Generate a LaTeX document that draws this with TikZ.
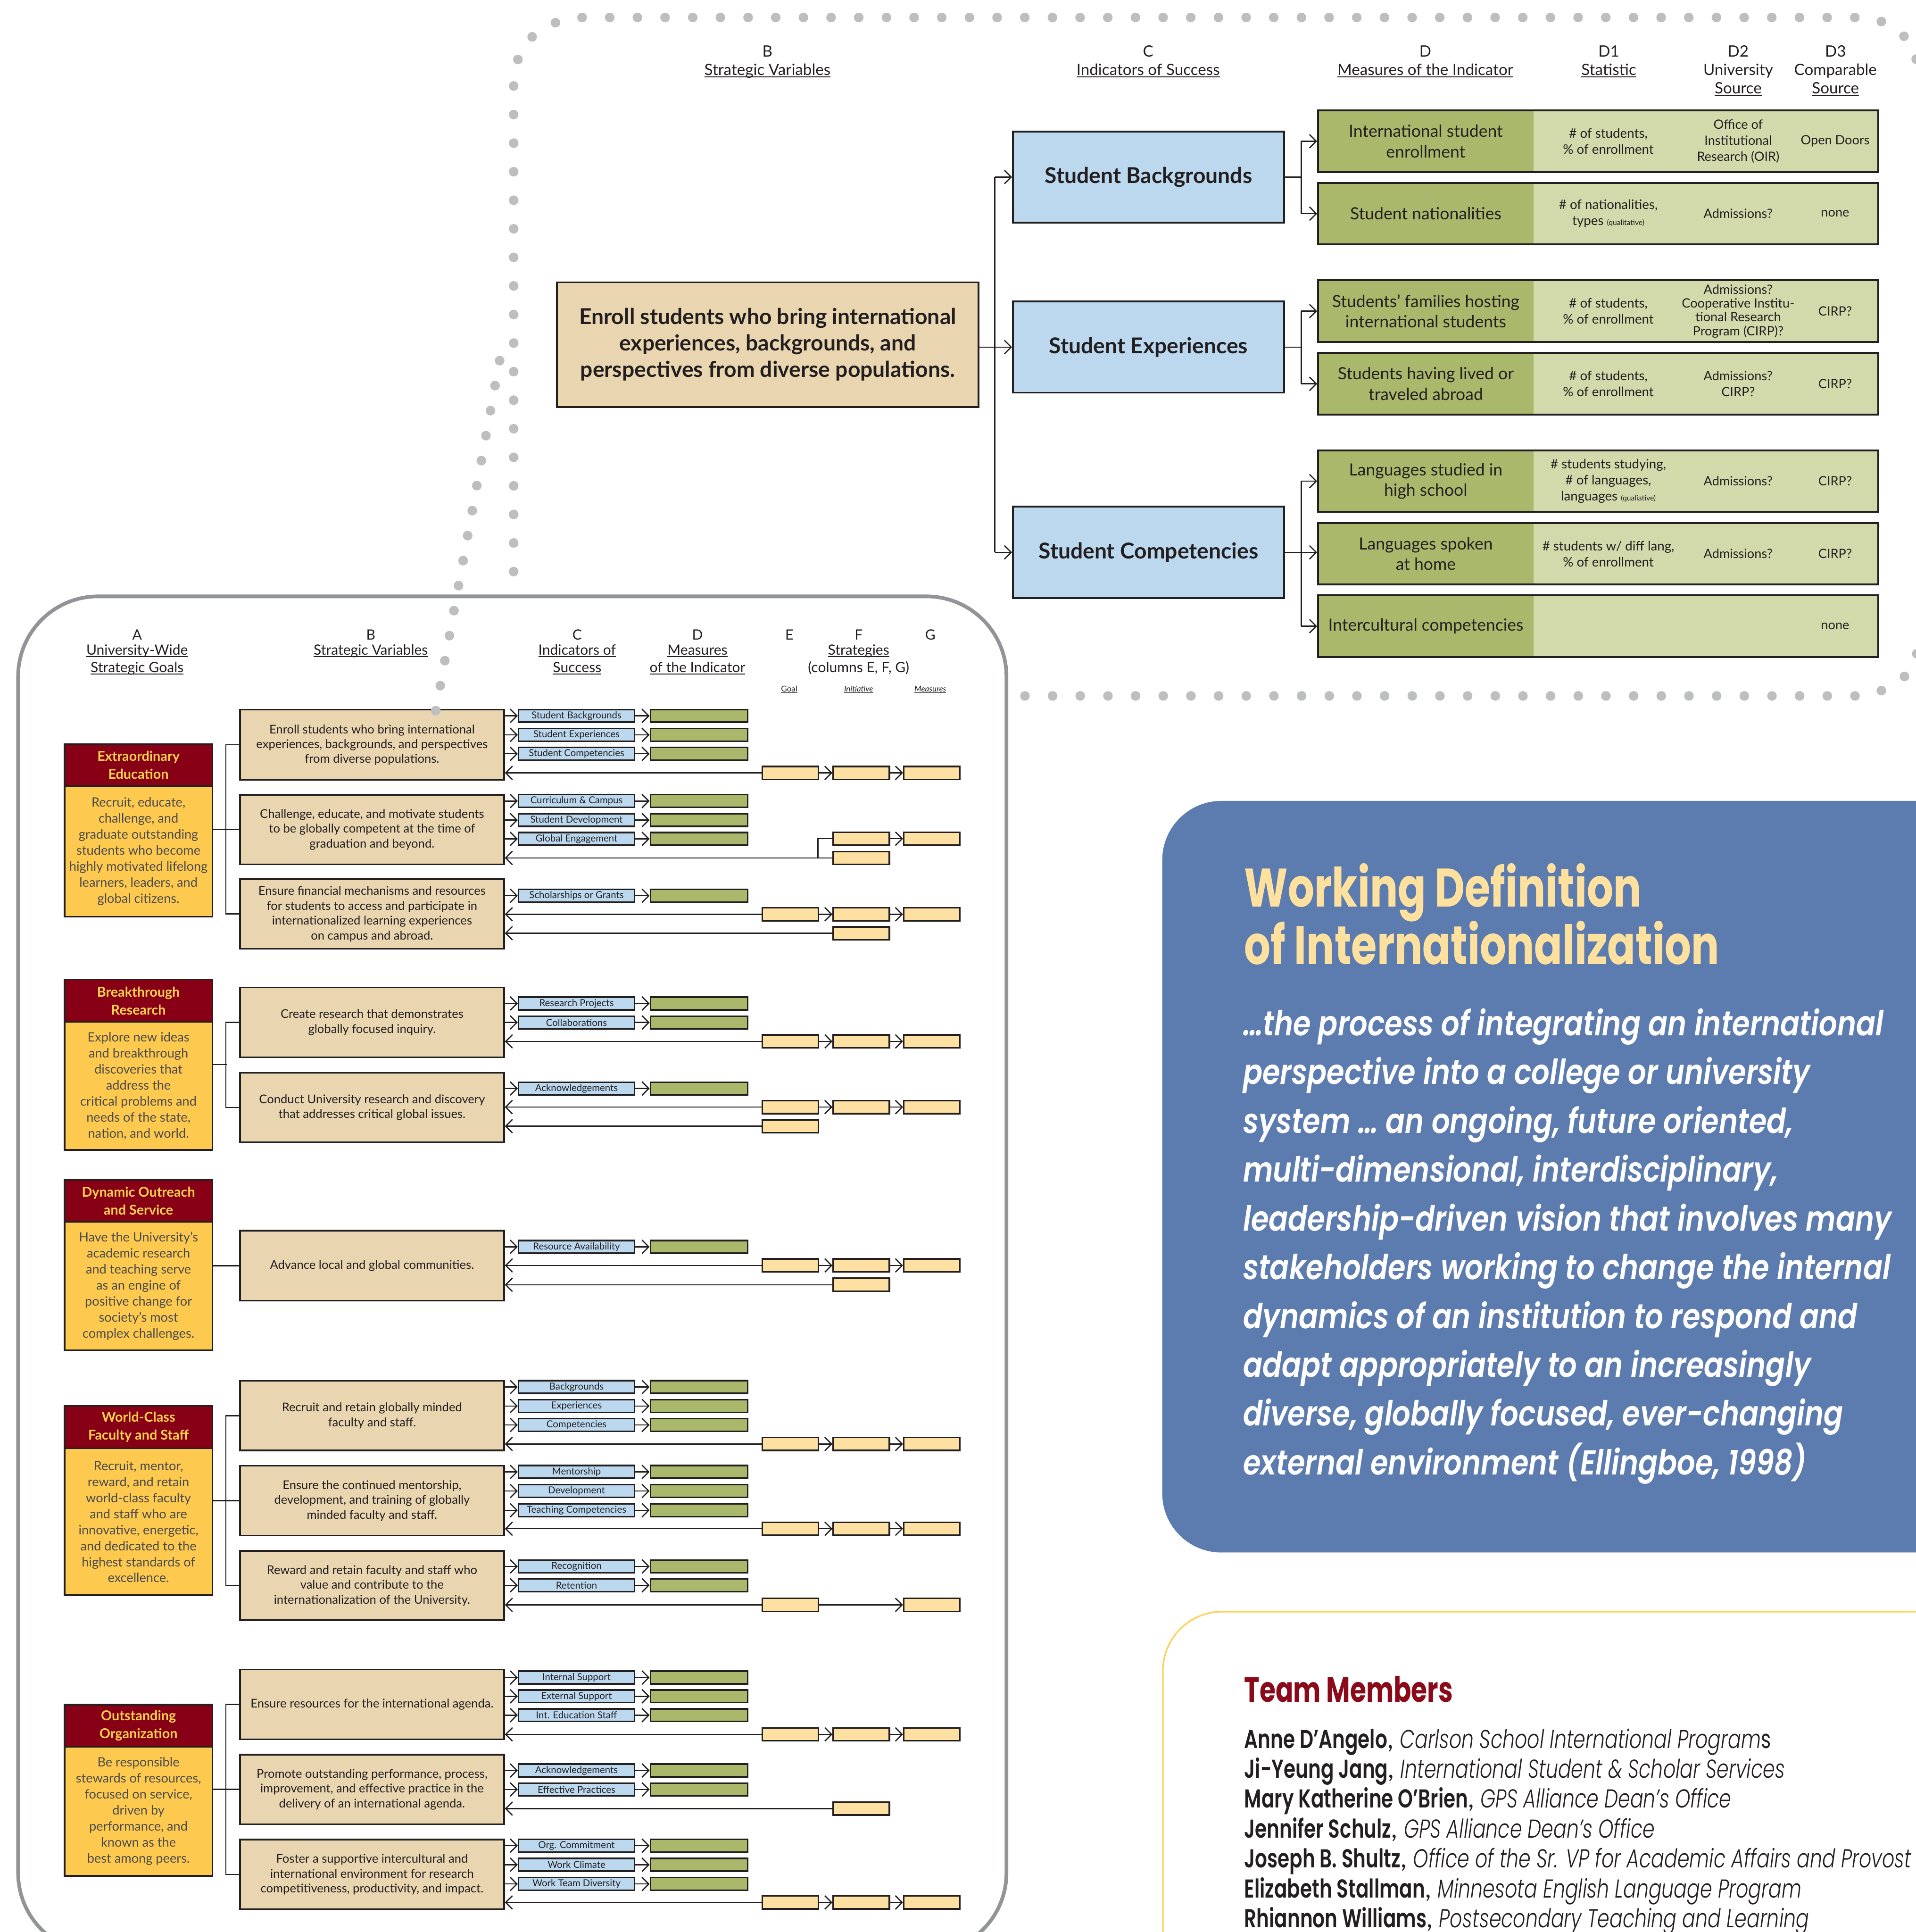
\documentclass[tikz,border=0pt]{standalone}
\usepackage{fontspec}
\setmainfont{Lato}
\newfontfamily\pop{Poppins}[FakeStretch=0.74]
\newfontfamily\popt{Poppins}[FakeStretch=0.765]
\newfontfamily\popq{Poppins SemiBold Italic}[FakeStretch=0.83]
\newfontfamily\popm{Poppins SemiBold}[FakeStretch=0.74]
\newfontfamily\popl{Poppins Light Italic}[FakeStretch=0.75]
\usetikzlibrary{arrows.meta}
\definecolor{tanc}{HTML}{E9D6B0}
\definecolor{bluec}{HTML}{BBD8EF}
\definecolor{dgreen}{HTML}{AAB86B}
\definecolor{lgreen}{HTML}{D2D9AB}
\definecolor{yel}{HTML}{FEE1A2}
\definecolor{goalred}{HTML}{870016}
\definecolor{goaltxt}{HTML}{F8D34E}
\definecolor{goalbody}{HTML}{FDCA4F}
\definecolor{ink}{HTML}{231F20}
\definecolor{bodytxt}{HTML}{4B4A4C}
\definecolor{dotc}{HTML}{BCBEC0}
\definecolor{panelgray}{HTML}{929497}
\definecolor{defblue}{HTML}{5C7BAE}
\definecolor{deftitle}{HTML}{FEE19E}
\definecolor{teamline}{HTML}{FDD35C}
\definecolor{teamred}{HTML}{8A0A1A}
\newsavebox\ulbox
\newcommand\ulx[1]{\sbox\ulbox{#1}\rlap{\rule[-0.14em]{\wd\ulbox}{0.06em}}\usebox\ulbox}
\newcommand\hdl[4]{\node[txt, anchor=base] (#1) at (#2,#3) {#4};}
% lower panel helpers
\newcommand\svnode[4]{\node[svb, minimum height={(#3)-(#2)}] (#1) at (302,{((#2)+(#3))/2}) {#4};}
\newcommand\indnode[4]{%
 \node[indb] (#1) at (468,#2) {#3};
 \node[grb] (#1g) at (567.5,#2) {};
 \draw[arr] (#4.east |- #1.west) -- (#1.west);
 \draw[arr] (#1.east) -- (#1g.west);}
\newcommand\backefg[3]{%
 \node[ylb] (#1e) at (641.5,#2) {};
 \node[ylb] (#1f) at (699.2,#2) {};
 \node[ylb] (#1g) at (756.5,#2) {};
 \draw[arr] (#1e.east) -- (#1f.west);
 \draw[arr] (#1f.east) -- (#1g.west);
 \draw[rarr] (#3.east |- #1e.west) -- (#1e.west);}
\newcommand\backe[3]{%
 \node[ylb] (#1e) at (641.5,#2) {};
 \draw[rarr] (#3.east |- #1e.west) -- (#1e.west);}
\newcommand\backf[3]{%
 \node[ylb] (#1f) at (699.2,#2) {};
 \draw[rarr] (#3.east |- #1f.west) -- (#1f.west);}
\newcommand\backeg[3]{%
 \node[ylb] (#1e) at (641.5,#2) {};
 \node[ylb] (#1g) at (756.5,#2) {};
 \draw[arr] (#1e.east) -- (#1g.west);
 \draw[rarr] (#3.east |- #1e.west) -- (#1e.west);}
\newcommand\goalnode[6]{%
 \node[bx, fill=goalred, minimum width=120pt, minimum height={(#3)-(#2)}, text=goaltxt, align=center,
   font=\bfseries\fontsize{11}{14.5}\selectfont] (#1t) at (112.4,{((#2)+(#3))/2}) {#5};
 \node[bx, fill=goalbody, minimum width=120pt, minimum height={(#4)-(#3)}, text=bodytxt, align=center,
   font=\fontsize{10.4}{13}\selectfont] (#1b) at (112.4,{((#3)+(#4))/2}) {#6};}
% top panel row
\newcommand\mrow[6]{%
 \node[fill=lgreen, minimum width=454.8pt, minimum height=50pt, inner sep=0pt] (#1bg) at (1297.4,#2) {};
 \node[fill=dgreen, minimum width=174.8pt, minimum height=50pt, inner sep=0pt] (#1d) at (1157.4,#2) {};
 \node[draw=ink, line width=1.6pt, minimum width=454.8pt, minimum height=50pt, inner sep=0pt] (#1) at (1297.4,#2) {};
 \node[txt, align=center, font=\fontsize{13.6}{16.7}\selectfont] (#1t0) at (1157.4,#2) {#3};
 \node[txt, align=center, font=\fontsize{10.6}{13}\selectfont] (#1t1) at (1305.6,#2) {#4};
 \node[txt, align=center, font=\fontsize{10.4}{13}\selectfont] (#1t2) at (1411,#2) {#5};
 \node[txt, align=center, font=\fontsize{10.4}{13}\selectfont] (#1t3) at (1489.7,#2) {#6};}
\newcommand\tmline[2]{{\popm #1}, {\popl #2}}
\begin{document}
\begin{tikzpicture}[x=1pt,y=-1pt,
 txt/.style={inner sep=0pt, text=ink},
 bx/.style={draw=ink, line width=1.3pt, inner sep=0pt},
 svb/.style={bx, fill=tanc, minimum width=214.3pt, align=center, text=ink, font=\fontsize{9.8}{12}\selectfont},
 indb/.style={bx, fill=bluec, minimum width=94pt, minimum height=10.3pt, text=ink, font=\fontsize{7.8}{8}\selectfont},
 grb/.style={bx, fill=dgreen, minimum width=79pt, minimum height=10.3pt},
 ylb/.style={bx, fill=yel, minimum width=45.6pt, minimum height=10.5pt},
 ln/.style={draw=ink, line width=1pt},
 arr/.style={ln, -{Straight Barb[length=5.5pt,width=11pt]}},
 rarr/.style={ln, {Straight Barb[length=5.5pt,width=11pt]}-},
 bigbox/.style={draw=ink, line width=1.5pt, inner sep=0pt, align=center, text=ink, font=\bfseries\fontsize{17.7}{21.5}\selectfont}]
\useasboundingbox (0,0) rectangle (1555,1568);
\fill[white] (0,0) rectangle (1555,1568);
% ---------- dotted frame ----------
\foreach \i in {0,...,46} \fill[dotc] ({472.5+22.46*\i},14.2) circle (3.9pt);
\foreach \p in {(450.9,18.4),(432,29.9),(420.4,48.3),(1527.2,17.5),(1545.6,29.4),(1555.5,48),
  (1527.2,560.5),(1546,549),(1556,530.6)} \fill[dotc] \p circle (3.9pt);
\foreach \i in {0,...,17} \fill[dotc] (417,{69.8+23.18*\i}) circle (3.9pt);
\foreach \i in {0,...,30} \fill[dotc] ({832+22.46*\i},564.8) circle (3.9pt);
% ---------- right panels ----------
\fill[defblue, rounded corners=48pt] (943.5,650) rectangle (1660,1260);
\draw[teamline, line width=1.3pt, rounded corners=48pt] (944,1308) rectangle (1660,1660);
\node[inner sep=0pt, anchor=base west, text=deftitle, font=\popt\bfseries\fontsize{44}{46}\selectfont] (wd1) at (1009.9,735.8) {Working Definition};
\node[inner sep=0pt, anchor=base west, text=deftitle, font=\popt\bfseries\fontsize{44}{46}\selectfont] (wd2) at (1009.9,782.5) {of Internationalization};
\foreach \t [count=\i] in {{…the process of integrating an international},
  {perspective into a college or university},
  {system … an ongoing, future oriented,},
  {multi-dimensional, interdisciplinary,},
  {leadership-driven vision that involves many},
  {stakeholders working to change the internal},
  {dynamics of an institution to respond and},
  {adapt appropriately to an increasingly},
  {diverse, globally focused, ever-changing},
  {external environment (Ellingboe, 1998)}}
  \node[inner sep=0pt, anchor=base west, text=white, font=\popq\fontsize{28}{30}\selectfont] (q\i) at (1009,{840.4+39.6*(\i-1)}) {\t};
\node[inner sep=0pt, anchor=base west, text=teamred, font=\pop\bfseries\fontsize{28.5}{30}\selectfont] (tm) at (1009.9,1381.5) {Team Members};
\foreach \t [count=\i] in {{\tmline{Anne D’Angelo}{Carlson School International Program{\pop s}}},
  {\tmline{Ji-Yeung Jang}{International Student \& Scholar Services}},
  {\tmline{Mary Katherine O’Brien}{GPS Alliance Dean’s Office}},
  {\tmline{Jennifer Schulz}{GPS Alliance Dean’s Office}},
  {\tmline{Joseph B. Shultz}{Office of the Sr. VP for Academic Affairs and Provost}},
  {\tmline{Elizabeth Stallman}{Minnesota English Language Program}},
  {\tmline{Rhiannon Williams}{Postsecondary Teaching and Learning}}}
  \node[inner sep=0pt, anchor=base west, text=ink, font=\fontsize{21}{24}\selectfont] (tn\i) at (1009.9,{1418.7+24.3*(\i-1)}) {\t};
% ---------- top panel ----------
\begin{scope}[font=\fontsize{12.7}{15}\selectfont]
\hdl{tb1}{623}{46.3}{B}\hdl{tb2}{623}{61}{\ulx{Strategic Variables}}
\hdl{tc1}{932}{46.3}{C}\hdl{tc2}{932}{61}{\ulx{Indicators of Success}}
\hdl{td1}{1157}{46.3}{D}\hdl{td2}{1157}{61}{\ulx{Measures of the Indicator}}
\hdl{te1}{1306}{46.3}{D1}\hdl{te2}{1306}{61}{\ulx{Statistic}}
\hdl{tf1}{1411}{46.3}{D2}\hdl{tf2}{1411}{61}{University}\hdl{tf3}{1411}{75.9}{\ulx{Source}}
\hdl{tg1}{1490}{46.3}{D3}\hdl{tg2}{1490}{61}{Comparable}\hdl{tg3}{1490}{75.9}{\ulx{Source}}
\end{scope}
\node[bigbox, fill=tanc, minimum width=342.4pt, minimum height=101.1pt] (enr) at (623.2,279.65)
  {Enroll students who bring international\\experiences, backgrounds, and\\perspectives from diverse populations.};
\node[bigbox, fill=bluec, minimum width=220pt, minimum height=74pt] (sb) at (932.3,143.65) {Student Backgrounds};
\node[bigbox, fill=bluec, minimum width=220pt, minimum height=74pt] (se) at (932.3,281.7) {Student Experiences};
\node[bigbox, fill=bluec, minimum width=220pt, minimum height=74pt] (sc) at (932.3,448.3) {Student Competencies};
\coordinate (tk) at (807.6,281);
\draw[ln] (tk |- sb.west) -- (tk |- sc.west);
\draw[arr] (tk |- sb.west) -- (sb.west);
\draw[arr] (tk |- sc.west) -- (sc.west);
\draw[arr] (enr.east |- se.west) -- (se.west);
\mrow{r1}{114.6}{International student\\enrollment}{\# of students,\\\% of enrollment}{Office of\\Institutional\\Research (OIR)}{Open Doors}
\mrow{r2}{173.4}{Student nationalities}{\# of nationalities,\\types {\fontsize{6}{6}\selectfont(qualitative)}}{Admissions?}{none}
\mrow{r3}{252.5}{Students’ families hosting\\international students}{\# of students,\\\% of enrollment}{Admissions?\\[-1.8pt]Cooperative Institu-\\[-1.8pt]tional Research\\[-1.8pt]Program (CIRP)?}{CIRP?}
\mrow{r4}{311.5}{Students having lived or\\traveled abroad}{\# of students,\\\% of enrollment}{Admissions?\\CIRP?}{CIRP?}
\mrow{r5}{390.5}{Languages studied in\\high school}{\# students studying,\\\# of languages,\\languages {\fontsize{6}{6}\selectfont(qualiative)}}{Admissions?}{CIRP?}
\mrow{r6}{449.4}{Languages spoken\\at home}{\# students w/ diff lang,\\\% of enrollment}{Admissions?}{CIRP?}
\mrow{r7}{508.2}{Intercultural competencies}{}{}{none}
\coordinate (ka) at (1056.3,143.65);
\coordinate (kb) at (1056.3,281.7);
\coordinate (kc) at (1056.3,448.3);
\draw[ln] (sb.east) -- (ka); \draw[ln] (ka |- r1.west) -- (ka |- r2.west);
\draw[arr] (ka |- r1.west) -- (r1.west); \draw[arr] (ka |- r2.west) -- (r2.west);
\draw[ln] (se.east) -- (kb); \draw[ln] (kb |- r3.west) -- (kb |- r4.west);
\draw[arr] (kb |- r3.west) -- (r3.west); \draw[arr] (kb |- r4.west) -- (r4.west);
\draw[ln] (kc |- r5.west) -- (kc |- r7.west);
\draw[arr] (sc.east) -- (sc.east -| r6.west);
\draw[arr] (kc |- r5.west) -- (r5.west); \draw[arr] (kc |- r7.west) -- (r7.west);
% ---------- lower panel ----------
\draw[panelgray, line width=3pt, rounded corners=65pt, fill=white] (14.7,484) rectangle (817,1585);
\begin{scope}[font=\fontsize{11.5}{14}\selectfont]
\hdl{la1}{111.3}{519.2}{A}\hdl{la2}{111.3}{531.5}{\ulx{University-Wide}}\hdl{la3}{111.3}{545.7}{\ulx{Strategic Goals}}
\hdl{lb1}{301}{519.2}{B}\hdl{lb2}{301}{531.5}{\ulx{Strategic Variables}}
\hdl{lc1}{468.5}{519.2}{C}\hdl{lc2}{468.5}{531.5}{\ulx{Indicators of}}\hdl{lc3}{468.5}{545.7}{\ulx{Success}}
\hdl{ld1}{566.2}{519.2}{D}\hdl{ld2}{566.2}{531.5}{\ulx{Measures}}\hdl{ld3}{566.2}{545.7}{\ulx{of the Indicator}}
\hdl{le1}{640.7}{519.2}{E}\hdl{lf1}{697}{519.2}{F}\hdl{lg1}{755.2}{519.2}{G}
\hdl{lf2}{697}{531.5}{\ulx{Strategies}}\hdl{lf3}{697}{545.7}{(columns E, F, G)}
\end{scope}
\begin{scope}[font=\fontsize{6.5}{8}\selectfont]
\hdl{ls1}{640.7}{561.4}{\ulx{Goal}}\hdl{ls2}{697}{561.4}{\ulx{\itshape Initiative}}\hdl{ls3}{755.2}{561.4}{\ulx{\itshape Measures}}
\end{scope}
% Education
\goalnode{ga}{604}{638}{744}{Extraordinary\\Education}{Recruit, educate,\\challenge, and\\graduate outstanding\\students who become\\highly motivated lifelong\\learners, leaders, and\\global citizens.}
\svnode{e1}{576}{633}{Enroll students who bring international\\experiences, backgrounds, and perspectives\\from diverse populations.}
\svnode{e2}{645}{701.5}{Challenge, educate, and motivate students\\to be globally competent at the time of\\graduation and beyond.}
\svnode{e3}{713.6}{770}{Ensure financial mechanisms and resources\\for students to access and participate in\\internationalized learning experiences\\on campus and abroad.}
\indnode{e1a}{581}{Student Backgrounds}{e1}
\indnode{e1b}{596.4}{Student Experiences}{e1}
\indnode{e1c}{611.8}{Student Competencies}{e1}
\backefg{e1x}{627.3}{e1}
\indnode{e2a}{650.1}{Curriculum \& Campus}{e2}
\indnode{e2b}{665.6}{Student Development}{e2}
\indnode{e2c}{680.8}{Global Engagement}{e2}
\node[ylb] (e2f1) at (699.2,680.7) {};
\node[ylb] (e2f2) at (699.2,696.3) {};
\node[ylb] (e2g) at (756.5,680.7) {};
\draw[arr] (e2f1.east) -- (e2g.west);
\draw[rarr] (e2.east |- e2f2.west) -- (e2f2.west);
\coordinate (e2j) at (664,696.3);
\draw[ln] (e2j) |- (e2f1.west);
\indnode{e3a}{727}{Scholarships or Grants}{e3}
\backefg{e3x}{742}{e3}
\backf{e3y}{757.4}{e3}
\draw[ln] (gab.east |- e2.west) -- (e2.west);
\draw[ln] (e1.west) -- ++(-10.8,0) |- (e3.west);
% Research
\goalnode{gb}{795}{829.4}{933.3}{Breakthrough\\Research}{Explore new ideas\\and breakthrough\\discoveries that\\address the\\critical problems and\\needs of the state,\\nation, and world.}
\svnode{r1}{801.4}{858}{Create research that demonstrates\\globally focused inquiry.}
\svnode{r2}{870.6}{927}{Conduct University research and discovery\\that addresses critical global issues.}
\indnode{r1a}{814.4}{Research Projects}{r1}
\indnode{r1b}{829.8}{Collaborations}{r1}
\backefg{r1x}{845.2}{r1}
\indnode{r2a}{883.4}{Acknowledgements}{r2}
\backefg{r2x}{898.5}{r2}
\backe{r2y}{914}{r2}
\coordinate (gbc) at (184,864);
\draw[ln] (gbb.east |- gbc) -- (gbc);
\draw[ln] (r1.west) -- ++(-10.8,0) |- (r2.west);
% Dynamic
\goalnode{gc}{957.4}{991.6}{1095.7}{Dynamic Outreach\\and Service}{Have the University’s\\academic research\\and teaching serve\\as an engine of\\positive change for\\society’s most\\complex challenges.}
\svnode{d1}{998.8}{1055.5}{Advance local and global communities.}
\indnode{d1a}{1011.9}{Resource Availability}{d1}
\backefg{d1x}{1027}{d1}
\backf{d1y}{1042.7}{d1}
\draw[ln] (gcb.east |- d1.west) -- (d1.west);
% World
\goalnode{gd}{1141}{1175.4}{1294.7}{World-Class\\Faculty and Staff}{Recruit, mentor,\\reward, and retain\\world-class faculty\\and staff who are\\innovative, energetic,\\and dedicated to the\\highest standards of\\excellence.}
\svnode{w1}{1120.6}{1177.2}{Recruit and retain globally minded\\faculty and staff.}
\svnode{w2}{1189.6}{1246.3}{Ensure the continued mentorship,\\development, and training of globally\\minded faculty and staff.}
\svnode{w3}{1258.6}{1315}{Reward and retain faculty and staff who\\value and contribute to the\\internationalization of the University.}
\indnode{w1a}{1125.7}{Backgrounds}{w1}
\indnode{w1b}{1141.1}{Experiences}{w1}
\indnode{w1c}{1156.5}{Competencies}{w1}
\backefg{w1x}{1171.9}{w1}
\indnode{w2a}{1194.6}{Mentorship}{w2}
\indnode{w2b}{1210.1}{Development}{w2}
\indnode{w2c}{1225.7}{Teaching Competencies}{w2}
\backefg{w2x}{1240.7}{w2}
\indnode{w3a}{1271.3}{Recognition}{w3}
\indnode{w3b}{1286.6}{Retention}{w3}
\backeg{w3x}{1302.5}{w3}
\draw[ln] (gdb.east |- w2.west) -- (w2.west);
\draw[ln] (w1.west) -- ++(-10.8,0) |- (w3.west);
% Outstanding
\goalnode{ge}{1383.5}{1417.7}{1522.5}{Outstanding\\Organization}{Be responsible\\stewards of resources,\\focused on service,\\driven by\\performance, and\\known as the\\best among peers.}
\svnode{o1}{1355}{1411.7}{Ensure resources for the international agenda.}
\svnode{o2}{1424}{1480.5}{Promote outstanding performance, process,\\improvement, and effective practice in the\\delivery of an international agenda.}
\svnode{o3}{1493}{1549.5}{Foster a supportive intercultural and\\international environment for research\\competitiveness, productivity, and impact.}
\indnode{o1a}{1361.5}{Internal Support}{o1}
\indnode{o1b}{1376.7}{External Support}{o1}
\indnode{o1c}{1392}{Int. Education Staff}{o1}
\backefg{o1x}{1407.6}{o1}
\indnode{o2a}{1436.9}{Acknowledgements}{o2}
\indnode{o2b}{1452.3}{Effective Practices}{o2}
\backf{o2x}{1467.8}{o2}
\indnode{o3a}{1497.9}{Org. Commitment}{o3}
\indnode{o3b}{1513.4}{Work Climate}{o3}
\indnode{o3c}{1529}{Work Team Diversity}{o3}
\backefg{o3x}{1544}{o3}
\draw[ln] (geb.east |- o2.west) -- (o2.west);
\draw[ln] (o1.west) -- ++(-10.8,0) |- (o3.west);
% diagonal dotted callout
\foreach \i in {0,...,14} \fill[dotc] ({405.6-3.707*\i},{292.7+20.29*\i}) circle (3.9pt);
\end{tikzpicture}
\end{document}
